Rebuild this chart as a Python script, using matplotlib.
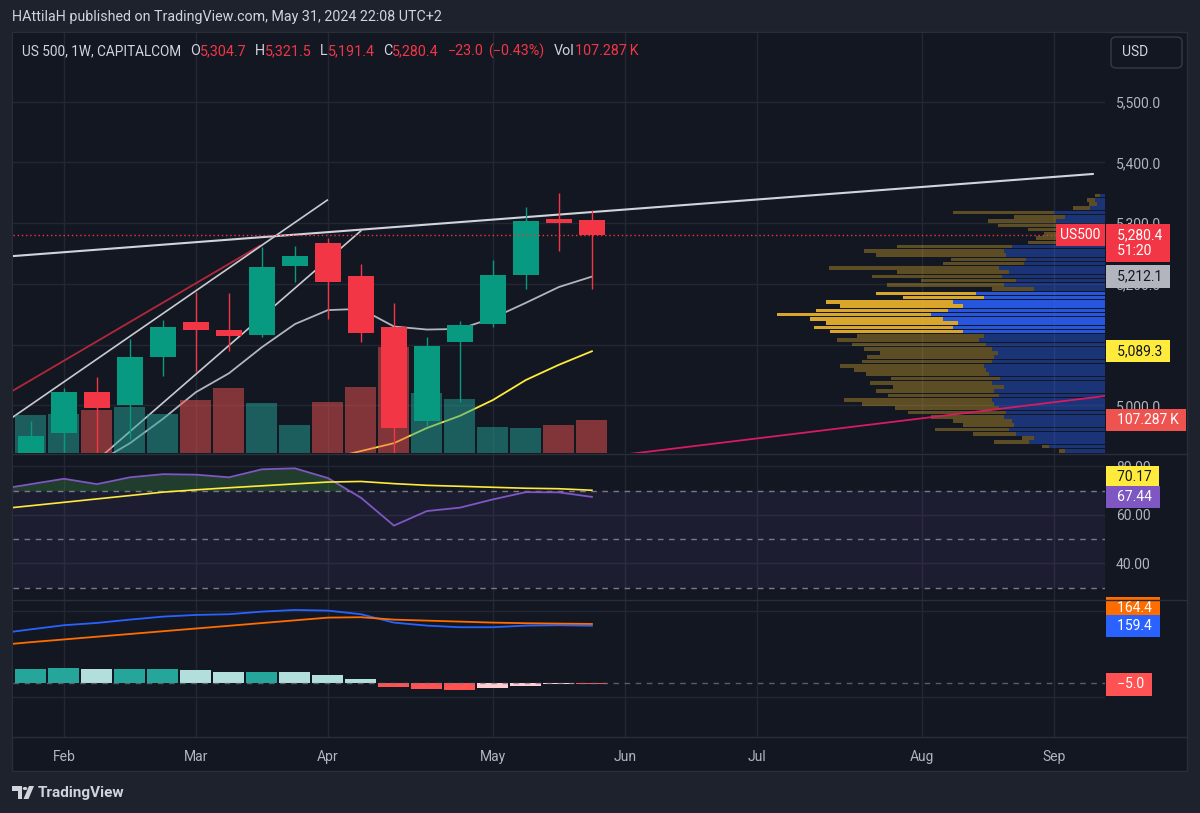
import matplotlib
matplotlib.use("Agg")
import matplotlib.pyplot as plt
import matplotlib.transforms as mtransforms
from matplotlib.colors import to_rgba
from matplotlib.lines import Line2D
from matplotlib.patches import Rectangle, FancyBboxPatch, Circle, Polygon
import numpy as np
import pandas as pd

plt.rcParams['font.family'] = ['Roboto', 'DejaVu Sans']

# ---- US500 weekly (CAPITALCOM) ----
weeks = pd.date_range('2024-01-22', '2024-05-27', freq='W-MON')
opens = [4855, 4890, 4955, 5022, 5001, 5080, 5137, 5124, 5116, 5229, 5267, 5213, 5129, 4975, 5104, 5134, 5215, 5307, 5304.7]
highs = [4905, 4975, 5029, 5047, 5109, 5141, 5187, 5185, 5261, 5262, 5275, 5233, 5169, 5113, 5139, 5239, 5326, 5349, 5321.5]
lows = [4845, 4845, 4918, 4920, 4945, 5049, 5055, 5090, 5112, 5203, 5142, 5104, 4920, 4966, 5006, 5129, 5192, 5254, 5191.4]
closes = [4890, 4950, 5022, 4996, 5080, 5129, 5124, 5114, 5228, 5246, 5203, 5119, 4963, 5098, 5132, 5215, 5303, 5300, 5280.4]
volume = [160, 122, 125, 138, 147, 125, 170, 208, 160, 90, 163, 211, 339, 192, 173, 83, 80, 90, 107.287]  # K

nan = np.nan
ma_fast = [nan, nan, nan, 4906, 4938, 4978, 5022, 5053, 5096, 5134, 5157, 5159, 5130, 5125, 5126, 5144, 5169, 5195, 5212.1]
ma_slow = [nan] * 10 + [4912, 4925, 4938, 4963, 4983, 5009, 5042, 5067, 5089.3]

rsi = [70.5, 72.7, 74.9, 72.7, 75.5, 76.8, 76.6, 75.5, 78.8, 79.2, 75.2, 67.1, 55.6, 61.6, 63.0, 66.4, 69.4, 69.3, 67.44]
rsi_ma = [62.4, 63.8, 65.2, 66.6, 68.0, 69.4, 70.35, 71.2, 72.0, 72.8, 73.55, 73.8, 72.9, 72.2, 71.8, 71.4, 71.0, 70.8, 70.17]

macd = [137.5, 149.3, 160.8, 167.2, 176.5, 184.9, 189.6, 191.6, 198.9, 203.6, 201.7, 191.6, 168.1, 159.7, 155.2, 155.2, 159.7, 160.8, 159.4]
signal = [105.0, 113.4, 121.0, 128.7, 136.3, 144.0, 151.6, 159.2, 166.9, 174.5, 182.1, 183.2, 176.5, 173.7, 170.9, 168.1, 166.4, 165.3, 164.4]
hist = [35.5, 37.4, 40.2, 38.3, 38.6, 38.8, 35.5, 29.9, 30.3, 29.5, 22.4, 10.9, -11.2, -16.8, -19.6, -14.9, -8.4, -3.7, -5.0]

# drawn trend lines: (week index, price) end points
trend_white = ([0.0, 33.18], [5244, 5381])
trend_red = ([0.0, 7.94], [5010, 5263])
chan_upper = ([0.0, 9.98], [4964, 5338])
chan_lower = ([3.0, 11.0], [4910, 5287.5])
trend_pink = ([18.5, 33.55], [4916, 5015.6])

# visible range volume profile, 7-point rows from 4925.5 up
vp_levels = np.arange(4925.5, 5350, 7.0)
vp_total = [45, 62, 110, 82, 130, 168, 140, 150, 172, 195, 208, 240, 258, 215, 226, 210,
            232, 212, 236, 248, 262, 240, 235, 222, 238, 250, 265, 245, 272, 288, 276, 292,
            324, 286, 262, 276, 200, 226, 112, 216, 182, 230, 206, 273, 160, 152, 226, 238,
            206, 76, 68, 60, 76, 106, 116, 90, 150, 32, 16, 18, 10]
vp_up = [40, 55, 75, 70, 88, 95, 90, 92, 100, 98, 105, 110, 112, 105, 110, 100,
         112, 104, 115, 118, 120, 112, 110, 106, 112, 118, 125, 120, 140, 150, 145, 160,
         172, 155, 140, 150, 120, 128, 70, 100, 88, 102, 95, 105, 80, 78, 98, 100,
         92, 35, 30, 28, 34, 45, 48, 40, 50, 15, 8, 10, 5]
va_low, va_high = 5118, 5190

axis_weeks = pd.date_range('2024-01-22', '2024-09-30', freq='W-MON')

BG = '#131722'
OUTER = '#1e222d'
GRID = '#232733'
SEP = '#2a2e39'
TXT = '#b2b5be'
UP = '#089981'
DOWN = '#f23645'

W, H = 1200, 813
fig = plt.figure(figsize=(W / 100, H / 100), dpi=100, facecolor=OUTER)


def fx(px):
    return px / W


def fy(py):
    return 1 - py / H


fig.add_artist(Rectangle((fx(12), fy(771)), fx(1187) - fx(12), (771 - 32) / H,
                         transform=fig.transFigure, fc=BG, ec=SEP, lw=1, zorder=-10))
for yy in (454, 600, 737):
    fig.add_artist(Line2D([fx(12), fx(1187)], [fy(yy), fy(yy)], color=SEP, lw=1,
                          transform=fig.transFigure))


def pane(top, bottom):
    a = fig.add_axes([fx(12.5), fy(bottom), fx(1105) - fx(12.5), (bottom - top) / H])
    a.set_facecolor(BG)
    for s in a.spines.values():
        s.set_visible(False)
    a.set_axisbelow(True)
    a.yaxis.tick_right()
    a.tick_params(axis='both', length=0, labelcolor=TXT, labelsize=10)
    a.tick_params(axis='y', pad=8)
    return a


ax = pane(33, 453.5)
ax2 = pane(455, 599.5)
ax3 = pane(600.5, 737)

x = np.arange(len(weeks))
o, h, l, c = map(np.array, (opens, highs, lows, closes))
col = np.where(c >= o, UP, DOWN)

month_pos = [i for i in range(1, len(axis_weeks)) if axis_weeks[i].month != axis_weeks[i - 1].month]
month_lab = [axis_weeks[i].strftime('%b') for i in month_pos]

for a in (ax, ax2, ax3):
    a.set_xticks(month_pos)
    a.grid(True, color=GRID, lw=1)
    a.set_xlim(0.44, 33.55)
ax.set_xticklabels([])
ax2.set_xticklabels([])
ax3.set_xticklabels(month_lab, color=TXT, fontsize=10)
ax3.tick_params(axis='x', pad=9)

# ---- main pane ----
tr_vp = mtransforms.blended_transform_factory(ax.transAxes, ax.transData)
scale = 0.30 / max(vp_total)
tot = np.array(vp_total) * scale
up = np.array(vp_up) * scale
in_va = (vp_levels >= va_low) & (vp_levels <= va_high)
up_col = [to_rgba('#2962ff', 0.85 if v else 0.39) for v in in_va]
dn_col = [to_rgba('#fbc02d', 0.85 if v else 0.32) for v in in_va]
ax.barh(vp_levels, up, left=1 - up, height=6, color=up_col, lw=0, transform=tr_vp, zorder=1)
ax.barh(vp_levels, tot - up, left=1 - tot, height=6, color=dn_col, lw=0, transform=tr_vp, zorder=1)

ax.plot(*trend_white, color='#d1d4dc', lw=1.5, zorder=2)
ax.plot(*trend_red, color='#b2283a', lw=1.3, zorder=2)
ax.plot(*chan_upper, color='#c9cbd1', lw=1.2, zorder=2)
ax.plot(*chan_lower, color='#c9cbd1', lw=1.2, zorder=2)
ax.plot(*trend_pink, color='#d81b60', lw=1.3, zorder=2)
ax.plot(x, ma_fast, color='#b2b5be', lw=1.3, zorder=2)
ax.plot(x, ma_slow, color='#ffeb3b', lw=1.3, zorder=2)

VOL_TOP = 1340
vol_tr = mtransforms.Affine2D().scale(1, 1 / VOL_TOP) + \
    mtransforms.blended_transform_factory(ax.transData, ax.transAxes)
vol_col = np.where(c >= o, '#26a69a', '#ef5350')
ax.bar(x, volume, width=0.94, color=vol_col, alpha=0.5, lw=0, transform=vol_tr, zorder=3)

ax.vlines(x, l, h, colors=col, lw=1, zorder=4)
ax.bar(x, np.maximum(np.abs(c - o), 0.8), bottom=np.minimum(o, c), width=0.79, color=col, lw=0, zorder=4)
ax.axhline(closes[-1], color=DOWN, lw=1, ls=(0, (1, 2)), zorder=5)

ax.set_yticks([5000, 5100, 5200, 5300, 5400, 5500])
ax.set_yticklabels([f'{v:,.1f}' for v in [5000, 5100, 5200, 5300, 5400, 5500]])
ax.set_ylim(4921, 5613)

# ---- RSI pane ----
r = np.array(rsi)
ax2.axhspan(30, 70, color='#7e57c2', alpha=0.1, lw=0)
ax2.fill_between(x, r, 70, where=r > 70, interpolate=True, color='#4caf50', alpha=0.25, lw=0)
for lv in (70, 50, 30):
    ax2.axhline(lv, color='#787b86', lw=1, ls=(0, (4, 4)))
ax2.plot(x, rsi, color='#7e57c2', lw=1.3)
ax2.plot(x, rsi_ma, color='#ffeb3b', lw=1.2)
ax2.set_yticks([40, 60, 80])
ax2.set_yticklabels(['40.00', '60.00', '80.00'])
ax2.set_ylim(25.15, 84.7)

# ---- MACD pane ----
hcol = []
for i, v in enumerate(hist):
    prev = hist[i - 1] if i else v
    if v >= 0:
        hcol.append('#26a69a' if v >= prev else '#b2dfdb')
    else:
        hcol.append('#ffcdd2' if v > prev else '#ff5252')
ax3.axhline(0, color='#787b86', lw=1, ls=(0, (4, 4)), alpha=0.7)
ax3.bar(x, hist, width=0.94, color=hcol, lw=0)
ax3.plot(x, macd, color='#2962ff', lw=1.3)
ax3.plot(x, signal, color='#ff6d00', lw=1.3)
ax3.set_yticks([-40, 200])
ax3.tick_params(axis='y', labelright=False)
ax3.set_ylim(-152, 230)


# ---- scale tags ----
def tag(a, val, text, fc, tc, dy=0, ytr=None):
    ytr = ytr if ytr is not None else a.transData
    t = mtransforms.blended_transform_factory(a.transAxes, ytr)
    a.annotate('\u2002' + text + ' ', xy=(1, val), xycoords=t, xytext=(3.6, dy),
               textcoords='offset points', ha='left', va='center', color=tc, fontsize=10,
               linespacing=1.15, annotation_clip=False, zorder=20,
               bbox=dict(boxstyle='square,pad=0.3', fc=fc, ec='none'))


tag(ax, closes[-1], '5,280.4 \n\u200251:20', DOWN, 'white', dy=-5.8)
tag(ax, ma_fast[-1], '5,212.1', '#b2b5be', BG)
tag(ax, ma_slow[-1], '5,089.3', '#ffeb3b', BG)
tag(ax, volume[-1], '107.287\u2009K', '#ef5350', 'white', ytr=vol_tr)
ax.annotate('US500', xy=(1, closes[-1]), xycoords=tr_vp, xytext=(-3, 0), textcoords='offset points',
            ha='right', va='center', color='white', fontsize=10, annotation_clip=False, zorder=20,
            bbox=dict(boxstyle='square,pad=0.3', fc=DOWN, ec='none'))

tag(ax2, rsi_ma[-1], '70.17', '#ffeb3b', BG, dy=9.3)
tag(ax2, rsi[-1], '67.44', '#7e57c2', 'white')
tag(ax3, signal[-1], '164.4', '#ff6d00', 'white', dy=11.3)
tag(ax3, macd[-1], '159.4', '#2962ff', 'white')
tag(ax3, hist[-1], '\u22125.0', '#ff5252', 'white')

# ---- header / legend ----
fig.text(fx(12), fy(17), 'HAttilaH published on TradingView.com, May 31, 2024 22:08 UTC+2',
         color='#d1d4dc', fontsize=10.3, va='center')
prev = fig.text(fx(22), fy(51), 'US 500, 1W, CAPITALCOM', color='#d1d4dc', fontsize=9.8, va='center')
legend_parts = [('O', '#d1d4dc', 6.5), ('5,304.7', DOWN, 0), ('H', '#d1d4dc', 6), ('5,321.5', DOWN, 0),
                ('L', '#d1d4dc', 6), ('5,191.4', DOWN, 0), ('C', '#d1d4dc', 6), ('5,280.4', DOWN, 0),
                ('\u221223.0', DOWN, 6), ('(\u22120.43%)', DOWN, 3.5),
                ('Vol', '#d1d4dc', 7), ('107.287\u2009K', DOWN, 0)]
for s, cc, gap in legend_parts:
    prev = ax.annotate(s, xy=(1, 0.5), xycoords=prev, xytext=(gap, 0), textcoords='offset points',
                       ha='left', va='center', color=cc, fontsize=10.3, annotation_clip=False)

fig.add_artist(FancyBboxPatch((fx(1111), fy(68)), fx(1182) - fx(1111), (68 - 37) / H,
                              boxstyle='round,pad=0,rounding_size=0.005', transform=fig.transFigure,
                              fc=BG, ec='#363a45', lw=1))
fig.text(fx(1122), fy(52.5), 'USD', color='#d1d4dc', fontsize=10, va='center')

# footer logo + name
fig.add_artist(Polygon([(fx(12), fy(786)), (fx(22), fy(786)), (fx(22), fy(799)), (fx(17.5), fy(799)),
                        (fx(17.5), fy(790.5)), (fx(12), fy(790.5))], closed=True,
                       transform=fig.transFigure, fc='#d1d4dc', ec='none'))
fig.add_artist(Circle((fx(25), fy(788.5)), 2.3 / W, transform=fig.transFigure, fc='#d1d4dc', ec='none'))
fig.add_artist(Polygon([(fx(29), fy(786)), (fx(34), fy(786)), (fx(28.5), fy(799)), (fx(23.5), fy(799))],
                       closed=True, transform=fig.transFigure, fc='#d1d4dc', ec='none'))
fig.text(fx(38), fy(792.5), 'TradingView', color='#d1d4dc', fontsize=11, fontweight='semibold', va='center')

fig.savefig('out.png', dpi=100, facecolor=OUTER)
